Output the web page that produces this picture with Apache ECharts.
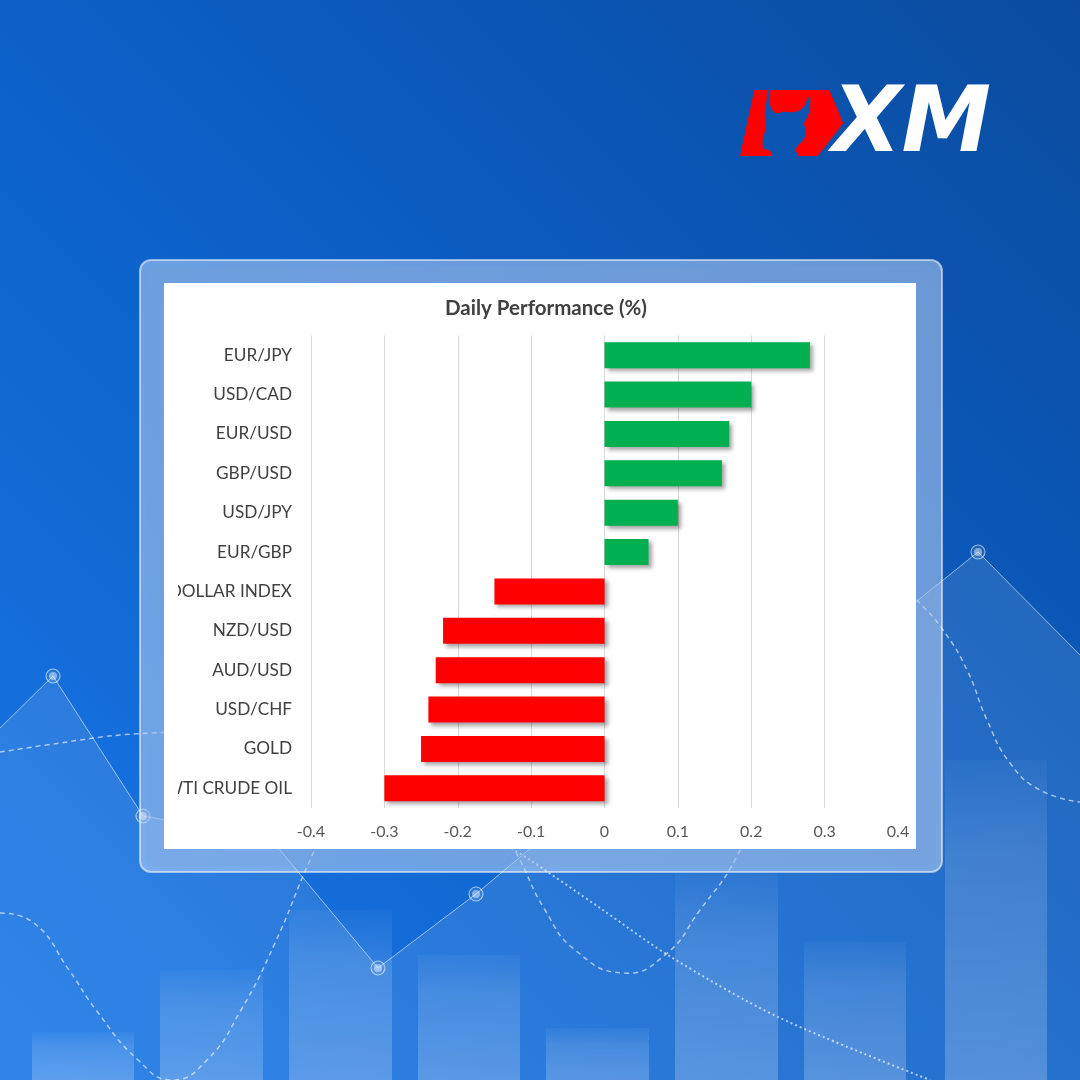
<!DOCTYPE html>
<html>
<head>
<meta charset="utf-8">
<script src="https://cdn.jsdelivr.net/npm/echarts@6/dist/echarts.min.js"></script>
<style>
html,body{margin:0;padding:0;background:#0c5cbf;}
#chart{width:1080px;height:1080px;}
</style>
</head>
<body>
<div id="chart"></div>
<script>
// ---- data ----
var categories = ['EUR/JPY','USD/CAD','EUR/USD','GBP/USD','USD/JPY','EUR/GBP','DOLLAR INDEX','NZD/USD','AUD/USD','USD/CHF','GOLD','WTI CRUDE OIL'];
var values = [0.28, 0.20, 0.17, 0.16, 0.10, 0.06, -0.15, -0.22, -0.23, -0.24, -0.25, -0.30];
var xMin = -0.4, xMax = 0.4, xStep = 0.1;
var titleText = 'Daily Performance (%)';
var logoText = 'XM';

var chart = echarts.init(document.getElementById('chart'), null, {renderer:'canvas'});

var FONT = 'Lato';
function ring(x,y){
  return [
    {type:'circle', z:-6, shape:{cx:x,cy:y,r:7}, style:{fill:'rgba(255,255,255,0.08)', stroke:'rgba(255,255,255,0.55)', lineWidth:1.2}},
    {type:'circle', z:-6, shape:{cx:x,cy:y,r:4}, style:{fill:'rgba(255,255,255,0.45)'}}
  ];
}
function pts(a,ox,oy){return a.map(function(p){return [ox+p[0]/3, oy+p[1]/3];});}

var linePts = [[0,728],[53,676],[143,816],[270,838],[378,968],[476,894],[600,790],[760,690],[917,601],[978,552],[1080,655]];
var bars = [[32,134,1032],[160,263,970],[289,392,910],[418,520,955],[546,649,1028],[675,778,873],[804,906,942],[945,1047,760]];

var graphics = [];
// background
graphics.push({type:'rect', z:-20, shape:{x:0,y:0,width:1080,height:1080},
  style:{fill:new echarts.graphic.LinearGradient(0,1,1,0,[{offset:0,color:'#1a78e8'},{offset:0.5,color:'#0c60c8'},{offset:1,color:'#0a4b9e'}])}});
// decorative bars
bars.forEach(function(b){
  graphics.push({type:'rect', z:-15, shape:{x:b[0],y:b[2],width:b[1]-b[0],height:1080-b[2]},
    style:{fill:new echarts.graphic.LinearGradient(0,0,0,1,[{offset:0,color:'rgba(255,255,255,0.03)'},{offset:0.3,color:'rgba(255,255,255,0.13)'},{offset:1,color:'rgba(255,255,255,0.22)'}])}});
});
// area under line
graphics.push({type:'polygon', z:-14, shape:{points:linePts.concat([[1080,1080],[0,1080]])},
  style:{fill:'rgba(255,255,255,0.10)'}});
graphics.push({type:'polyline', z:-8, shape:{points:linePts}, style:{stroke:'rgba(255,255,255,0.55)', lineWidth:1, fill:null}});
// dashed curves
var dashStyle = {stroke:'rgba(255,255,255,0.6)', lineWidth:1.5, lineDash:[5,4], fill:null};
var dotStyle = {stroke:'rgba(255,255,255,0.65)', lineWidth:2, lineDash:[2,3], fill:null};
graphics.push({type:'polyline', z:-8, shape:{smooth:0.4, points:[[0,752],[60,743],[120,735],[200,731]]}, style:dashStyle});
graphics.push({type:'polyline', z:-8, shape:{smooth:0.5, points:[[0,913],[34,923],[69,970],[96,1010],[138,1060],[172,1080],[207,1060],[241,1010],[275,943],[310,860],[330,820]]}, style:dashStyle});
graphics.push({type:'polyline', z:-8, shape:{smooth:0.5, points:[[500,820],[520,860],[545,910],[575,950],[623,973],[665,955],[700,910],[735,860],[760,800]]}, style:dashStyle});
graphics.push({type:'polyline', z:-8, shape:{smooth:0.3, points:[[490,835],[530,860],[600,908],[671,957],[778,1017],[930,1080]]}, style:dotStyle});
graphics.push({type:'polyline', z:-8, shape:{smooth:0.5, points:[[880,560],[917,600],[943,630],[967,670],[987,720],[1010,763],[1040,790],[1080,802]]}, style:dashStyle});
[[53,676],[143,816],[378,968],[476,894],[978,552]].forEach(function(p){graphics = graphics.concat(ring(p[0],p[1]));});

// panel frame
graphics.push({type:'rect', z:-5, shape:{x:140,y:260,width:802,height:612,r:11},
  style:{fill:'rgba(200,220,250,0.5)', stroke:'rgba(255,255,255,0.55)', lineWidth:2}});
graphics.push({type:'rect', z:-4, shape:{x:146,y:266,width:790,height:600,r:8},
  style:{fill:'rgba(120,160,215,0.25)'}});
graphics.push({type:'rect', z:-3, shape:{x:164,y:283,width:752,height:566},
  style:{fill:'#ffffff'}});
// label clipping mask (left edge of the plot area)
graphics.push({type:'rect', z:100, shape:{x:164,y:570,width:14,height:235}, style:{fill:'#ffffff'}});

// logo
var LX=730, LY=80;
graphics.push({type:'polygon', z:-2, shape:{points:pts([[73,30],[298,30],[340,130],[263,228],[30,228]],LX,LY)}, style:{fill:'#ff0000'}});
graphics.push({type:'polygon', z:-1, shape:{smooth:0.2, points:pts([[112,28],[120,28],[118,60],[125,88],[140,100],[160,95],[185,97],[205,93],[222,80],[232,58],[240,48],[240,90],[232,112],[222,130],[228,150],[222,178],[205,195],[195,212],[205,222],[200,230],[130,230],[120,212],[100,205],[98,180],[108,140],[104,100],[110,60]],LX,LY)},
  style:{fill:'#0c55b2'}});
graphics.push({type:'text', z:0, x:832, y:128, style:{text:logoText, fill:'#ffffff', font:'italic 900 90px "DejaVu Sans"', textAlign:'left', textVerticalAlign:'middle'}});

var option = {
  backgroundColor:'transparent',
  animation:false,
  title:{text:titleText, left:541, top:293, textAlign:'center',
    textStyle:{fontFamily:FONT, fontSize:20.5, fontWeight:'bold', color:'#404040'}},
  grid:{left:311, right:182, top:335.5, bottom:272, containLabel:false},
  xAxis:{type:'value', min:xMin, max:xMax, interval:xStep,
    axisLine:{show:false}, axisTick:{show:false},
    splitLine:{show:true, showMaxLine:false, lineStyle:{color:'#d9d9d9', width:1}},
    axisLabel:{fontFamily:FONT, fontSize:16, color:'#595959', margin:16,
      formatter:function(v){return (Math.round(v*10)/10).toString();}}},
  yAxis:{type:'category', data:categories, inverse:true,
    axisLine:{show:false}, axisTick:{show:false},
    axisLabel:{fontFamily:FONT, fontSize:17.2, color:'#404040', margin:19}},
  graphic:{elements:graphics},
  series:[{type:'bar', barWidth:'66%',
    data:values.map(function(v){return {value:v, itemStyle:{color: v>=0?'#00b050':'#ff0000'}};}),
    itemStyle:{shadowColor:'rgba(0,0,0,0.35)', shadowBlur:4, shadowOffsetX:3, shadowOffsetY:3}}]
};
chart.setOption(option);
</script>
</body>
</html>
